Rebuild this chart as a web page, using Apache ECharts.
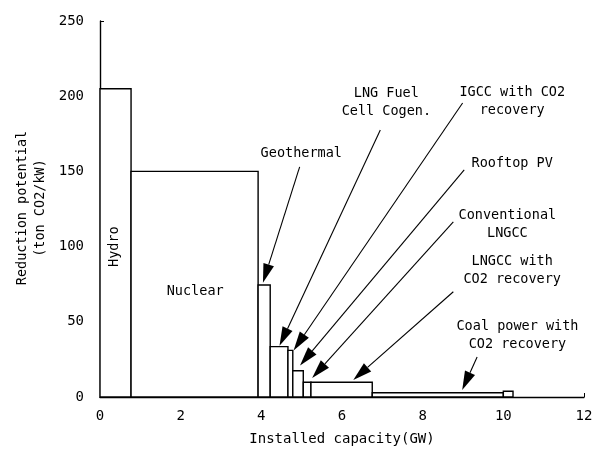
<!DOCTYPE html>
<html>
<head>
<meta charset="utf-8">
<script src="https://cdn.jsdelivr.net/npm/echarts@6/dist/echarts.min.js"></script>
<style>
  html, body { margin: 0; padding: 0; background: #fff; }
  #chart { width: 596px; height: 458px; }
</style>
</head>
<body>
<div id="chart"></div>
<script>
// supply curve: each block is one technology, width = capacity, height = reduction potential
const techNames = ['Hydro', 'Nuclear', 'Geothermal', 'LNG Fuel Cell Cogen.', 'IGCC with CO2 recovery',
  'Rooftop PV', 'Conventional LNGCC', 'LNGCC with CO2 recovery', 'Coal power with CO2 recovery', 'Other']
const capacityGW = [0.77, 3.15, 0.30, 0.44, 0.12, 0.26, 0.19, 1.52, 3.25, 0.24]
const potential = [205, 150, 74.5, 33.5, 31, 17.5, 9.8, 9.8, 2.8, 3.8]

const xTicks = [0, 2, 4, 6, 8, 10, 12]
const yTicks = [0, 50, 100, 150, 200, 250]

// callouts: text, text centre [x, y], arrow start [x, y], arrow tip [x, y] (data units)
const calloutText = ['Geothermal', 'LNG Fuel\nCell Cogen.', 'IGCC with CO2\nrecovery', 'Rooftop PV',
  'Conventional\nLNGCC', 'LNGCC with\nCO2 recovery', 'Coal power with\nCO2 recovery']
const calloutPos = [[4.99, 162], [7.1, 195.5], [10.22, 196.8], [10.22, 155], [10.1, 114.4], [10.22, 83.8], [10.35, 40.6]]
const arrowFrom = [[4.95, 153], [6.95, 177.5], [8.99, 195.5], [9.03, 151], [8.76, 116.4], [8.76, 70], [9.35, 26.6]]
const arrowTo = [[4.04, 76], [4.45, 34], [4.8, 31], [4.96, 21], [5.26, 12.6], [6.28, 11.3], [8.98, 4.6]]

// labels inside the two big blocks
const blockLabels = ['Hydro', 'Nuclear']
const blockLabelPos = [[0.37, 100], [2.36, 70]]
const blockLabelRotate = [Math.PI / 2, 0]

const FONT = '"DejaVu Sans Mono", "Liberation Mono", monospace'

const blocks = []
let start = 0
capacityGW.forEach((w, i) => {
  blocks.push({ name: techNames[i], value: [start, start + w, potential[i]] })
  start += w
})

const renderBlock = (params, api) => {
  const topLeft = api.coord([api.value(0), api.value(2)])
  const bottomRight = api.coord([api.value(1), 0])
  return {
    type: 'rect',
    shape: {
      x: topLeft[0],
      y: topLeft[1],
      width: bottomRight[0] - topLeft[0],
      height: bottomRight[1] - topLeft[1]
    },
    style: { fill: '#fff', stroke: '#000', lineWidth: 1.4 }
  }
}

const renderCallout = (params, api) => {
  const i = params.dataIndex
  const pos = api.coord(calloutPos[i])
  const from = api.coord(arrowFrom[i])
  const tip = api.coord(arrowTo[i])
  const dx = tip[0] - from[0]
  const dy = tip[1] - from[1]
  const len = Math.sqrt(dx * dx + dy * dy)
  const ux = dx / len
  const uy = dy / len
  const headLen = 19
  const headHalf = 5.5
  const bx = tip[0] - ux * headLen
  const by = tip[1] - uy * headLen
  return {
    type: 'group',
    children: [
      {
        type: 'line',
        shape: { x1: from[0], y1: from[1], x2: bx, y2: by },
        style: { stroke: '#000', lineWidth: 1.1 }
      },
      {
        type: 'polygon',
        shape: {
          points: [tip, [bx - uy * headHalf, by + ux * headHalf], [bx + uy * headHalf, by - ux * headHalf]]
        },
        style: { fill: '#000' }
      },
      {
        type: 'text',
        x: pos[0],
        y: pos[1],
        style: {
          text: calloutText[i],
          textAlign: 'center',
          textVerticalAlign: 'middle',
          lineHeight: 18,
          fill: '#000',
          font: '13.5px ' + FONT
        }
      }
    ]
  }
}

const renderBlockLabel = (params, api) => {
  const i = params.dataIndex
  const pos = api.coord(blockLabelPos[i])
  return {
    type: 'text',
    x: pos[0],
    y: pos[1],
    rotation: blockLabelRotate[i],
    style: {
      text: blockLabels[i],
      textAlign: 'center',
      textVerticalAlign: 'middle',
      fill: '#000',
      font: '13.5px ' + FONT
    }
  }
}

const chart = echarts.init(document.getElementById('chart'))
chart.setOption({
  animation: false,
  backgroundColor: '#fff',
  grid: { left: 100, right: 12, top: 21, bottom: 61 },
  xAxis: {
    type: 'value',
    min: xTicks[0],
    max: xTicks[xTicks.length - 1],
    interval: 2,
    name: 'Installed capacity(GW)',
    nameLocation: 'middle',
    nameGap: 35,
    nameTextStyle: { color: '#000', fontFamily: FONT, fontSize: 14 },
    axisLine: { lineStyle: { color: '#000', width: 1.4 } },
    axisTick: { show: true, inside: true, length: 4, lineStyle: { color: '#000' } },
    axisLabel: { color: '#000', fontFamily: FONT, fontSize: 14, margin: 12 },
    splitLine: { show: false }
  },
  yAxis: {
    type: 'value',
    min: yTicks[0],
    max: yTicks[yTicks.length - 1],
    interval: 50,
    axisLine: { show: true, lineStyle: { color: '#000', width: 1.4 } },
    axisTick: { show: true, inside: true, length: 4, lineStyle: { color: '#000' } },
    axisLabel: { color: '#000', fontFamily: FONT, fontSize: 14, margin: 16 },
    splitLine: { show: false }
  },
  graphic: [
    {
      type: 'text',
      x: 31,
      y: 208,
      rotation: Math.PI / 2,
      style: {
        text: 'Reduction potential\n(ton CO2/kW)',
        textAlign: 'center',
        textVerticalAlign: 'middle',
        lineHeight: 18,
        fill: '#000',
        font: '13.5px ' + FONT
      }
    }
  ],
  series: [
    {
      type: 'custom',
      renderItem: renderBlock,
      data: blocks,
      encode: { x: [0, 1], y: 2 },
      silent: true
    },
    {
      type: 'custom',
      renderItem: renderBlockLabel,
      data: blockLabelPos,
      silent: true
    },
    {
      type: 'custom',
      renderItem: renderCallout,
      data: calloutPos,
      silent: true,
      z: 3
    }
  ]
})
</script>
</body>
</html>
